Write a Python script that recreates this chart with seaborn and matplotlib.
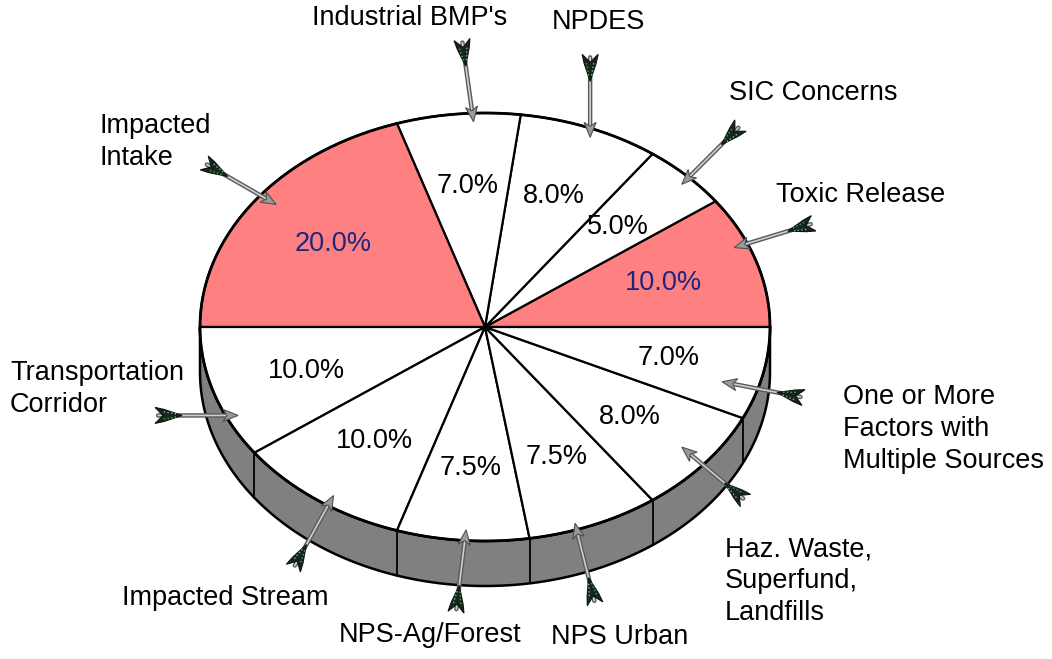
import numpy as np
import matplotlib
matplotlib.use("Agg")
import matplotlib.pyplot as plt
from matplotlib.patches import Polygon
import seaborn as sns

# ---- data (counter-clockwise from 3 o'clock) ----
categories = ["Toxic Release", "SIC Concerns", "NPDES", "Industrial BMP's",
              "Impacted\nIntake", "Transportation\nCorridor", "Impacted Stream",
              "NPS-Ag/Forest", "NPS Urban", "Haz. Waste,\nSuperfund,\nLandfills",
              "One or More\nFactors with\nMultiple Sources"]
shares = [10.0, 5.0, 8.0, 7.0, 20.0, 10.0, 10.0, 7.5, 7.5, 8.0, 7.0]
highlighted = [True, False, False, False, True, False, False, False, False, False, False]

# ---- layout (pixel space) ----
W, H = 1052, 659
cx, cy, a, b, depth = 485, 327, 285, 214, 45
label_pos = [(776, 195, "left"), (729, 93, "left"), (598, 22, "center"),
             (410, 18, "center"), (100, 142, "left"), (10, 389, "left"),
             (225, 598, "center"), (430, 635, "center"), (620, 637, "center"),
             (725, 581, "left"), (843, 429, "left")]
# arrow placement: head offset from slice middle (deg), head radius, tail direction (deg, y up)
arrow_shift = [5, -1, -1, -3, -2, 7.5, 2, 0.5, -3.5, 0.5, -4.5]
arrow_r = [0.95, 0.96, 0.96, 0.96, 0.93, 0.96, 0.95, 0.95, 0.97, 0.89, 0.87]
arrow_dir = [17, 45, 90, 98, 150, 180, 241, 263, 284, 320, 349]

RED = "#ff8080"
SIDE = "#808080"
NAVY = "#1c2680"

sns.set_theme(style="white")
plt.rcParams["font.family"] = ["Liberation Sans", "DejaVu Sans"]

fig = plt.figure(figsize=(W / 100, H / 100), dpi=100)
ax = fig.add_axes([0, 0, 1, 1])
ax.set_xlim(0, W)
ax.set_ylim(H, 0)
ax.axis("off")


def pt(t, r=1.0, dz=0.0):
    return cx + r * a * np.cos(t), cy - r * b * np.sin(t) + dz


bounds = np.radians(np.concatenate([[0], np.cumsum(shares)]) * 3.6)

# side band (front half)
ts = np.linspace(np.pi, 2 * np.pi, 200)
top = np.column_stack(pt(ts))
bot = np.column_stack(pt(ts[::-1], dz=depth))
ax.add_patch(Polygon(np.vstack([top, bot]), closed=True, facecolor=SIDE,
                     edgecolor="black", lw=1.8, zorder=1))
for t in bounds:
    if np.pi < t < 2 * np.pi:
        x0, y0 = pt(t)
        ax.plot([x0, x0], [y0, y0 + depth], color="black", lw=1.3, zorder=2)

# top face wedges
for i, (t0, t1) in enumerate(zip(bounds[:-1], bounds[1:])):
    tt = np.linspace(t0, t1, 80)
    arc = np.column_stack(pt(tt))
    poly = np.vstack([[cx, cy], arc])
    ax.add_patch(Polygon(poly, closed=True,
                         facecolor=RED if highlighted[i] else "white",
                         edgecolor="black", lw=1.6, zorder=3))
    tm = (t0 + t1) / 2
    lx, ly = pt(tm, r=0.66)
    ax.text(lx, ly, f"{shares[i]:.1f}%", ha="center", va="center",
            fontsize=19.5, color=NAVY if highlighted[i] else "black", zorder=6)

# outer rim of top face
tt = np.linspace(0, 2 * np.pi, 400)
ax.plot(*pt(tt), color="black", lw=2, zorder=4)


def draw_arrow(head, tail):
    head, tail = np.array(head), np.array(tail)
    u = (head - tail) / np.linalg.norm(head - tail)
    n = np.array([-u[1], u[0]])
    ax.annotate("", xy=head - 8 * u, xytext=tail, zorder=7,
                arrowprops=dict(arrowstyle="-", color="#5a5a5a", lw=3.2,
                                shrinkA=0, shrinkB=0))
    ax.annotate("", xy=head - 10 * u, xytext=tail, zorder=7,
                arrowprops=dict(arrowstyle="-", color="#cfcfcf", lw=1.2,
                                shrinkA=0, shrinkB=0))
    ax.add_patch(Polygon([head, head - 15 * u + 6 * n, head - 11 * u, head - 15 * u - 6 * n],
                         closed=True, facecolor="#9a9a9a", edgecolor="#505050",
                         lw=0.8, zorder=8))
    f = [tail + 24 * u, tail + 6 * u + 6 * n, tail - 3 * u + 8 * n, tail + 5 * u,
         tail - 3 * u - 8 * n, tail + 6 * u - 6 * n]
    ax.add_patch(Polygon(f, closed=True, facecolor="#17261c", edgecolor="#0d130f",
                         lw=0.8, zorder=8))
    ax.plot(*zip(tail + 18 * u + 1.5 * n, tail + 4 * u + 4 * n), color="#3fae5a",
            lw=1, ls=":", zorder=9)
    ax.plot(*zip(tail + 18 * u - 1.5 * n, tail + 4 * u - 4 * n), color="#6fbfa0",
            lw=1, ls=":", zorder=9)


# arrows and category labels
for i, (t0, t1) in enumerate(zip(bounds[:-1], bounds[1:])):
    tm = (t0 + t1) / 2 + np.radians(arrow_shift[i])
    hx, hy = pt(tm, r=arrow_r[i])
    ang = np.radians(arrow_dir[i])
    draw_arrow((hx, hy), (hx + 80 * np.cos(ang), hy - 80 * np.sin(ang)))
    x, y, ha = label_pos[i]
    ax.text(x, y, categories[i], ha=ha, va="center", fontsize=19.5,
            linespacing=1.28, color="black", zorder=10)

fig.savefig("out.png", dpi=100, facecolor="white")
